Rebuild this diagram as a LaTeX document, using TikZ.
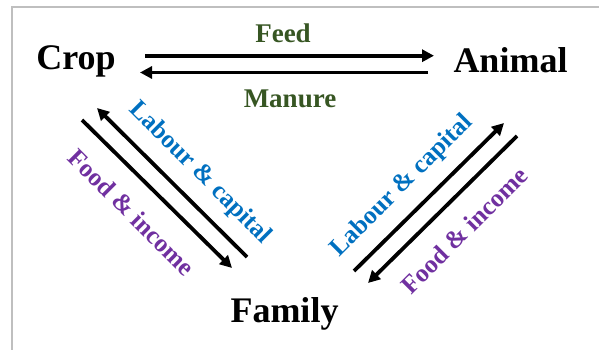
\documentclass[tikz,border=0pt]{standalone}
\usepackage{fontspec}
\setmainfont{Liberation Serif}
\usetikzlibrary{arrows.meta}

\definecolor{feedgreen}{RGB}{55,86,35}
\definecolor{labourblue}{RGB}{0,112,192}
\definecolor{foodpurple}{RGB}{112,48,160}

\begin{document}
\begin{tikzpicture}[x=1pt,y=-1pt,
  term/.style={inner sep=0pt,anchor=base,font=\fontsize{36}{40}\selectfont\bfseries},
  flowlabel/.style={inner sep=0pt,font=\fontsize{25.5}{30}\selectfont\bfseries},
  flat/.style={flowlabel,anchor=base,font=\fontsize{27}{30}\selectfont\bfseries},
  flow/.style={line width=3.8pt,-{Triangle[length=12pt,width=12pt]}}]
  \useasboundingbox (0,0) rectangle (599,350);
  \draw[line width=2pt,black!25] (12,350) -- (12,7) -- (599,7);
  % the three parts of the farm
  \node[term] (crop) at (76,70) {Crop};
  \node[term] (animal) at (510.5,73) {Animal};
  \node[term] (family) at (284.5,322) {Family};
  % arrow ends
  \coordinate (feedS) at (145,55.7);
  \coordinate (feedE) at (434,55.7);
  \coordinate (manS) at (428,72.5);
  \coordinate (manE) at (140,72.5);
  \coordinate (lcLS) at (247,257);
  \coordinate (lcLE) at (97,108);
  \coordinate (fiLS) at (82,120);
  \coordinate (fiLE) at (232,268);
  \coordinate (lcRS) at (354,271);
  \coordinate (lcRE) at (504,123);
  \coordinate (fiRS) at (517,136);
  \coordinate (fiRE) at (368,283);
  \draw[flow] (feedS) -- (feedE);
  \draw[flow] (manS) -- (manE);
  \draw[flow] (lcLS) -- (lcLE);
  \draw[flow] (fiLS) -- (fiLE);
  \draw[flow] (lcRS) -- (lcRE);
  \draw[flow] (fiRS) -- (fiRE);
  % labels
  \node[flat,text=feedgreen] (feed) at (283,43) {Feed};
  \node[flat,text=feedgreen] (manure) at (290,107) {Manure};
  \node[flowlabel,text=labourblue,rotate=-45] (lcL) at (200,173) {Labour \& capital};
  \node[flowlabel,text=foodpurple,rotate=-45] (fiL) at (132,212) {Food \& income};
  \node[flowlabel,text=labourblue,rotate=45] (lcR) at (402,186) {Labour \& capital};
  \node[flowlabel,text=foodpurple,rotate=45] (fiR) at (464,230) {Food \& income};
\end{tikzpicture}
\end{document}
